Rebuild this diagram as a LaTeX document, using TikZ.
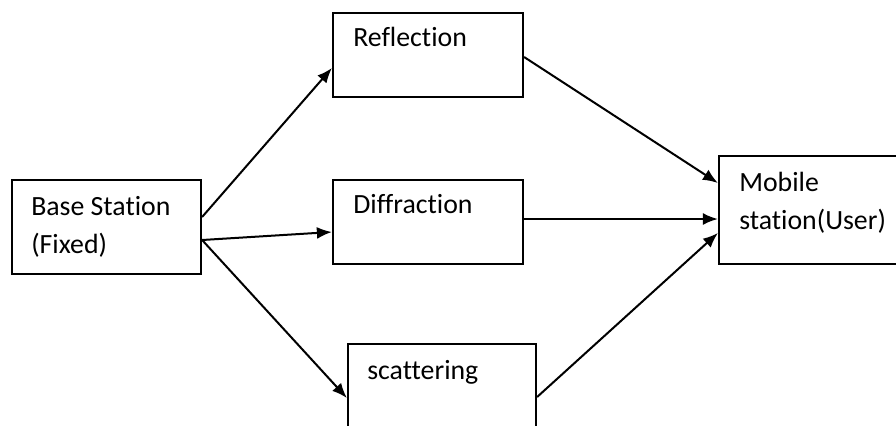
\documentclass[tikz,border=0pt]{standalone}
\usepackage{fontspec}
\setmainfont[Ligatures={NoCommon,NoContextual}]{Carlito}
\usetikzlibrary{arrows.meta, positioning, calc}

\tikzset{
  stagebox/.style={draw, line width=1.1pt, minimum width=95pt, minimum height=42pt, inner sep=0pt},
  boxtext/.style={anchor=base west, inner sep=0pt, align=left, font=\fontsize{13.9}{19.3}\selectfont},
  link/.style={line width=1pt, -{Latex[length=7.5pt,width=6pt]}}
}

\begin{document}
\begin{tikzpicture}[x=0.5pt, y=-0.5pt]
  % Page frame
  \clip (0,0) rectangle (896,425);
  \fill[white] (0,0) rectangle (896,425);

  % Boxes
  \node[stagebox, minimum width=94.5pt, minimum height=47pt] (base) at (106.5,227) {};
  \node[stagebox] (refl) at (428,55) {};
  \node[stagebox] (diff) at (428,222) {};
  \node[stagebox, minimum width=94pt] (scat) at (442,386) {};
  \node[stagebox, minimum height=54pt] (mob) at (814,210) {};

  % Box texts (two-line texts sit on their last baseline)
  \node[boxtext] (baset) at ($(base.north west)+(20,75)$) {Base Station\\(Fixed)};
  \node[boxtext] (reflt) at ($(refl.north west)+(21,35)$) {Reflection};
  \node[boxtext] (difft) at ($(diff.north west)+(21,35)$) {Diffraction};
  \node[boxtext] (scatt) at ($(scat.north west)+(20,37)$) {scattering};
  \node[boxtext] (mobt) at ($(mob.north west)+(21,75)$) {Mobile\\station(User)};

  % Connectors
  \draw[link] ($(base.east)+(0,-10)$) -- ($(refl.west)+(0,13)$);
  \draw[link] ($(base.east)+(0,13)$) -- ($(diff.west)+(0,10)$);
  \draw[link] ($(base.east)+(0,13)$) -- ($(scat.west)+(0,12)$);
  \draw[link] ($(refl.east)+(0,2)$) -- ($(mob.west)+(0,-27)$);
  \draw[link] ($(diff.east)+(0,-3)$) -- ($(mob.west)+(0,9)$);
  \draw[link] ($(scat.east)+(0,11)$) -- ($(mob.west)+(0,23)$);
\end{tikzpicture}
\end{document}
